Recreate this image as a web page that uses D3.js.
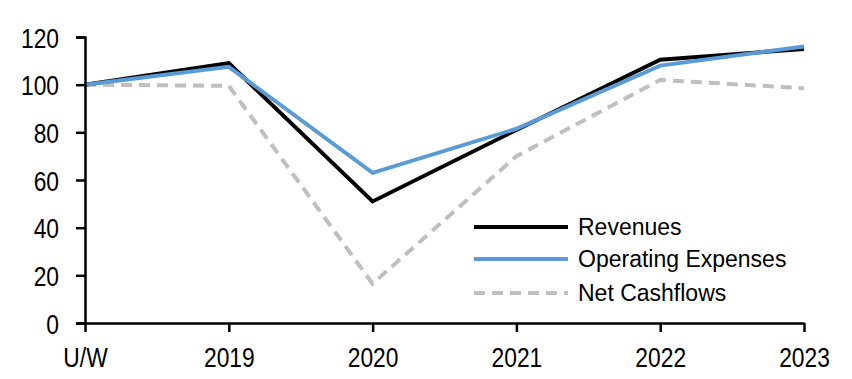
<!DOCTYPE html>
<html><head><meta charset="utf-8">
<script src="https://cdn.jsdelivr.net/npm/d3@7"></script>
<style>
body{margin:0;background:#fff;}
text{font-family:"Liberation Sans",Arial,sans-serif;fill:#000;}
</style></head>
<body><svg id="c" width="852" height="379"></svg>
<script>
const categories = ["U/W","2019","2020","2021","2022","2023"];
const revenues = [100, 109, 51, 81, 110.5, 115];
const opex = [100, 107.5, 63, 81.5, 108, 116];
const netCashflows = [100, 99.5, 16.5, 70, 102, 98.5];
const yTicks = [0,20,40,60,80,100,120];
const seriesNames = ["Revenues","Operating Expenses","Net Cashflows"];

const svg = d3.select("#c");
const x = d3.scalePoint().domain(categories).range([85, 804]);
const y = d3.scaleLinear().domain([0,120]).range([323, 37]);

const series = [
  {name: seriesNames[0], values: revenues, color:"#000000", dash:null},
  {name: seriesNames[1], values: opex, color:"#5B9BD5", dash:null},
  {name: seriesNames[2], values: netCashflows, color:"#BFBFBF", dash:"11,7"}
];

const drawOrder = [2,0,1];
const line = d3.line().x((d,i)=>x(categories[i])).y(d=>y(d));
drawOrder.forEach(k=>{
  const s = series[k];
  svg.append("path").attr("d", line(s.values)).attr("fill","none")
    .attr("stroke", s.color).attr("stroke-width", 4)
    .attr("stroke-dasharray", s.dash).attr("stroke-linejoin","miter");
});

const sx = 0.8;
// y axis
const yAxis = svg.append("g").attr("transform","translate(85,0)")
  .call(d3.axisLeft(y).tickValues(yTicks).tickSize(9).tickPadding(17));
yAxis.select(".domain").attr("stroke","#000").attr("stroke-width",2.5);
yAxis.selectAll(".tick line").attr("stroke","#000").attr("stroke-width",2.5);
yAxis.selectAll("text").style("font-size","28.5px").attr("dy","0.36em")
  .attr("x", -26/sx).attr("transform", `scale(${sx},1)`);

// x axis
const xAxis = svg.append("g").attr("transform","translate(0,323)")
  .call(d3.axisBottom(x).tickSize(9).tickPadding(15).tickSizeOuter(0));
xAxis.select(".domain").attr("stroke","#000").attr("stroke-width",2.5);
xAxis.selectAll(".tick line").attr("stroke","#000").attr("stroke-width",2.5);
xAxis.selectAll("text").style("font-size","28.5px").attr("dy","0.71em")
  .attr("transform", `scale(${sx},1)`);

// legend
const legY = [227, 259, 293];
series.forEach((s,i)=>{
  svg.append("line").attr("x1",474).attr("x2",568).attr("y1",legY[i]).attr("y2",legY[i])
    .attr("stroke", s.color).attr("stroke-width",4).attr("stroke-dasharray", s.dash);
  svg.append("text").attr("x",578).attr("y",legY[i]).attr("dy","0.36em")
    .style("font-size","23px").text(s.name);
});
</script></body></html>
